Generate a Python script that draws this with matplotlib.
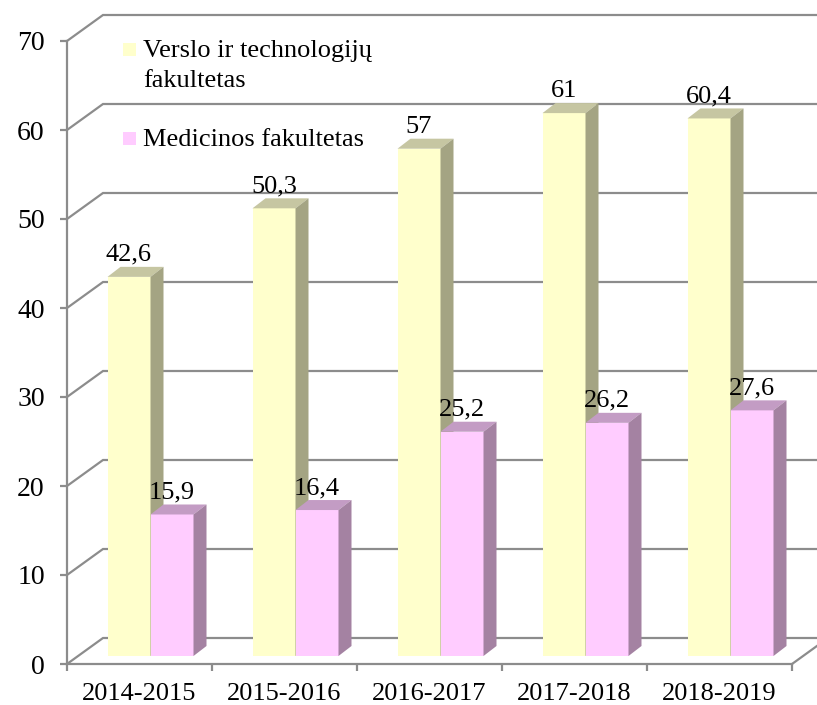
import numpy as np
import matplotlib
matplotlib.use("Agg")
import matplotlib.pyplot as plt
from matplotlib.patches import Polygon, Rectangle

# duomenys
years = ['2014-2015', '2015-2016', '2016-2017', '2017-2018', '2018-2019']
verslo = [42.6, 50.3, 57, 61, 60.4]
medicinos = [15.9, 16.4, 25.2, 26.2, 27.6]
labels = [['Verslo ir technologijų', 'fakultetas'], ['Medicinos fakultetas']]
y_ticks = [0, 10, 20, 30, 40, 50, 60, 70]

front_cols = ['#FFFFCC', '#FFCCFF']
top_cols = ['#C6C6A2', '#C39CC4']
side_cols = ['#A4A483', '#A482A2']
grid_col = '#8C8C8C'

plt.rcParams['font.family'] = ['Liberation Serif', 'DejaVu Serif']
FS = 19

W, H = 817, 705
fig = plt.figure(figsize=(W / 100, H / 100), dpi=100)
ax = fig.add_axes([0, 0, 1, 1])

# pikselių mastelis: 1 kategorija = 145 px, 1 vienetas = 8.9 px
px_x, px_y = 145.0, 8.9
x0_px, y0_px = 67, 664
ax.set_xlim(-x0_px / px_x, (W - x0_px) / px_x)
ax.set_ylim((y0_px - H) / px_y, y0_px / px_y)

# 3d gylis sienoms ir stulpeliams
wdx, wdy = 36 / px_x, 26 / px_y
ox, oy = 11 / px_x, 8 / px_y
bdx, bdy = 13 / px_x, 10 / px_y
n = len(years)
xend = n

# sienos / tinklelis
for v in y_ticks:
    ax.plot([0, wdx, xend + wdx + 1], [v, v + wdy, v + wdy], color=grid_col, lw=1.6, zorder=1,
            solid_joinstyle='miter')
ax.plot([xend, xend + wdx], [0, wdy], color=grid_col, lw=1.6, zorder=1)

# stulpeliai
w = 43 / px_x
for i in range(n):
    for j, vals in enumerate([verslo, medicinos]):
        v = vals[i]
        xl = i + (1 - 2 * w) / 2 + j * w + ox
        yb = oy
        yt = v + oy
        ax.add_patch(Rectangle((xl, yb), w, v, facecolor=front_cols[j], edgecolor='none', zorder=3))
        ax.add_patch(Polygon([(xl, yt), (xl + w, yt), (xl + w + bdx, yt + bdy), (xl + bdx, yt + bdy)],
                             closed=True, facecolor=top_cols[j], edgecolor='none', zorder=3))
        ax.add_patch(Polygon([(xl + w, yb), (xl + w + bdx, yb + bdy), (xl + w + bdx, yt + bdy), (xl + w, yt)],
                             closed=True, facecolor=side_cols[j], edgecolor='none', zorder=3))
        ax.text(xl + w / 2, yt + bdy + 6 / px_y, f'{v:g}'.replace('.', ','), ha='center', va='baseline',
                fontsize=FS, zorder=5)

# ašys
for s in ['top', 'right']:
    ax.spines[s].set_visible(False)
ax.spines['left'].set_position(('data', 0))
ax.spines['bottom'].set_position(('data', 0))
ax.spines['left'].set_bounds(0, 70)
ax.spines['bottom'].set_bounds(0, xend)
for s in ['left', 'bottom']:
    ax.spines[s].set_color(grid_col)
    ax.spines[s].set_linewidth(1.6)
    ax.spines[s].set_zorder(2)

ax.set_yticks(y_ticks)
ax.set_yticklabels([str(t) for t in y_ticks], fontsize=20)
ax.tick_params(axis='y', direction='out', length=5, width=1.6, color=grid_col, pad=11)

ax.set_xticks(range(n + 1))
ax.set_xticklabels([])
ax.set_xticks(np.arange(n) + 0.5, minor=True)
ax.set_xticklabels(years, minor=True, fontsize=FS)
ax.tick_params(axis='x', which='major', direction='out', length=5, width=1.6, color=grid_col)
ax.tick_params(axis='x', which='minor', length=0, pad=14)

# legenda
leg_sq = [(123, 43), (123, 132)]
leg_base = [[57, 87], [146]]
for j in range(2):
    sx, sy = leg_sq[j]
    fig.patches.append(Rectangle((sx / W, 1 - (sy + 13) / H), 13 / W, 13 / H, transform=fig.transFigure,
                                 facecolor=front_cols[j], edgecolor='none'))
    for line, by in zip(labels[j], leg_base[j]):
        fig.text(143 / W, 1 - by / H, line, ha='left', va='baseline', fontsize=FS)

fig.savefig('out.png', dpi=100)
